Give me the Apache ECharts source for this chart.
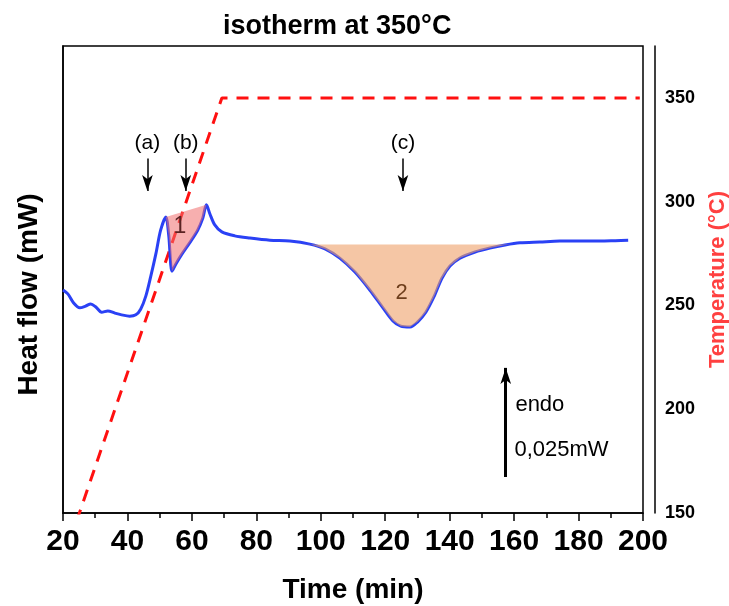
<!DOCTYPE html>
<html><head><meta charset="utf-8">
<script src="https://cdn.jsdelivr.net/npm/echarts@6/dist/echarts.min.js"></script>
<style>html,body{margin:0;padding:0;background:#fff}#c{width:729px;height:606px}</style>
</head><body><div id="c"></div><script>
// ---- data ----
const time = [20.0,21.5,23.3,25.2,27.0,28.6,30.2,32.0,33.9,36.1,38.2,40.7,42.6,44.1,45.7,47.2,48.8,50.3,51.9,52.8,53.85,55.0,56.9,59.3,61.8,63.4,64.5,65.6,67.1,69.3,73.3,78.0,84.2,90.4,96.6,101.3,105.9,110.6,115.2,119.3,122.4,124.8,127.7,130.1,132.6,135.1,137.6,140.1,143.2,147.9,152.5,157.2,161.8,168.0,174.2,180.5,186.7,191.4,195.4];
const heatFlow = [0.0511,0.0502,0.0481,0.0470,0.0474,0.0479,0.0472,0.0460,0.0463,0.0458,0.0454,0.0451,0.0454,0.0467,0.0497,0.0541,0.0593,0.0648,0.0678,0.0637,0.0554,0.0570,0.0593,0.0619,0.0648,0.0676,0.0706,0.0685,0.0660,0.0644,0.0635,0.0630,0.0625,0.0623,0.0616,0.0605,0.0584,0.0552,0.0511,0.0470,0.0440,0.0428,0.0426,0.0438,0.0460,0.0495,0.0538,0.0566,0.0584,0.0598,0.0607,0.0614,0.0619,0.0621,0.0623,0.0623,0.0623,0.0624,0.0625];
const tempTime = [20, 69.3, 199];
const temperature = [127, 350, 350];
const xTicks = {min: 20, max: 200, interval: 20};
const tempTicks = {min: 150, max: 375, interval: 50};
const heatFlowRange = {min: 0, max: 0.107};
const peak1 = 51.9, peak2 = 64.5;            // area 1 between these times
const area2 = {start: 93.6, end: 158.7, base: 0.0615};
const arrowsABC = [{t: 46.2, name: '(a)'}, {t: 58.1, name: '(b)'}, {t: 125.5, name: '(c)'}];
const scaleBar = {t: 157.4, from: 0.00825, to: 0.03325, text1: 'endo', text2: '0,025mW'};

const FONT = 'Liberation Sans, Arial, Helvetica, sans-serif';
const hfData = time.map((t, i) => [t, heatFlow[i]]);
const tData = tempTime.map((t, i) => [t, temperature[i]]);

const chart = echarts.init(document.getElementById('c'));

function polyArea(api, pts, color) {
  return {type: 'polygon', shape: {points: pts.map(p => api.coord(p))}, style: {fill: color}};
}

chart.setOption({
  animation: false,
  backgroundColor: '#fff',
  title: {text: 'isotherm at 350°C', left: 218, top: 8,
    textStyle: {fontFamily: FONT, fontSize: 27, fontWeight: 'bold', color: '#000'}},
  grid: {left: 63, right: 86, top: 46, bottom: 93, containLabel: false, outerBoundsMode: 'none',
    show: true, borderColor: '#000', borderWidth: 1.5, backgroundColor: 'transparent'},
  xAxis: {type: 'value', min: xTicks.min, max: xTicks.max, interval: xTicks.interval,
    name: 'Time (min)', nameLocation: 'middle', nameGap: 63,
    nameTextStyle: {fontFamily: FONT, fontSize: 28, fontWeight: 'bold', color: '#000'},
    axisLine: {lineStyle: {color: '#000', width: 1.5}},
    axisTick: {show: true, length: 8, lineStyle: {color: '#000', width: 1.5}},
    minorTick: {show: true, splitNumber: 2, length: 5, lineStyle: {color: '#000', width: 1.5}},
    splitLine: {show: false},
    axisLabel: {fontFamily: FONT, fontSize: 30, fontWeight: 'bold', color: '#000', margin: 14}},
  yAxis: [
    {type: 'value', min: heatFlowRange.min, max: heatFlowRange.max, position: 'left',
      name: 'Heat flow (mW)', nameLocation: 'middle', nameGap: 20, nameRotate: 90,
      nameTextStyle: {fontFamily: FONT, fontSize: 28, fontWeight: 'bold', color: '#000', padding: [0, 30, 0, 0]},
      axisLine: {show: true, lineStyle: {color: '#000', width: 1.5}},
      axisTick: {show: false}, axisLabel: {show: false}, splitLine: {show: false}},
    {type: 'value', min: tempTicks.min, max: tempTicks.max, interval: tempTicks.interval, position: 'right', offset: 12,
      name: 'Temperature (°C)', nameLocation: 'middle', nameGap: 52, nameRotate: 90,
      nameTextStyle: {fontFamily: FONT, fontSize: 22, fontWeight: 'bold', color: '#ff4040'},
      axisLine: {show: true, lineStyle: {color: '#000', width: 1.5}},
      axisTick: {show: false}, splitLine: {show: false},
      axisLabel: {fontFamily: FONT, fontSize: 18, fontWeight: 'bold', color: '#000', margin: 10, showMaxLabel: false}}
  ],
  series: [
    {type: 'line', name: 'heat flow', data: hfData, yAxisIndex: 0, symbol: 'none', smooth: 0.3,
      lineStyle: {color: '#2a41f5', width: 3}, z: 3,
      markLine: {silent: true, symbol: ['none', 'arrow'], animation: false,
        data: arrowsABC.map(a => [
          {coord: [a.t, 0.0812], symbolSize: [8, 12], lineStyle: {color: '#000', width: 1.5, type: 'solid'},
            label: {show: true, position: 'start', formatter: a.name, distance: 5, fontFamily: FONT, fontSize: 21, color: '#000'}},
          {coord: [a.t, 0.0738]}
        ]).concat([[
          {coord: [scaleBar.t, scaleBar.from], symbolSize: [10, 18], lineStyle: {color: '#000', width: 3, type: 'solid'}, label: {show: false}},
          {coord: [scaleBar.t, scaleBar.to]}
        ]])},
      markPoint: {silent: true, symbol: 'circle', symbolSize: 1, itemStyle: {color: 'rgba(0,0,0,0)'},
        data: [
          {coord: [56.3, 0.0655], label: {show: true, formatter: '1', position: 'inside', fontFamily: FONT, fontSize: 23, color: '#5a2222'}},
          {coord: [125.1, 0.0504], label: {show: true, formatter: '2', position: 'inside', fontFamily: FONT, fontSize: 22, color: '#6e3e1c'}},
          {coord: [160.4, 0.0247], label: {show: true, formatter: scaleBar.text1, position: 'inside', align: 'left', fontFamily: FONT, fontSize: 22, color: '#000'}},
          {coord: [160.1, 0.0144], label: {show: true, formatter: scaleBar.text2, position: 'inside', align: 'left', fontFamily: FONT, fontSize: 22, color: '#000'}}
        ]}},
    {type: 'custom', name: 'areas', yAxisIndex: 0, z: 4, silent: true, clip: true,
      data: [[peak1, 0]],
      renderItem: function (params, api) {
        if (params.dataIndex !== 0) return;
        const a1 = hfData.filter(p => p[0] >= peak1 && p[0] <= peak2);
        const a2 = [[area2.start, area2.base]].concat(hfData.filter(p => p[0] > area2.start && p[0] < area2.end)).concat([[area2.end, area2.base]]);
        return {type: 'group', children: [
          polyArea(api, a1, 'rgba(240,110,110,0.55)'),
          polyArea(api, a2, 'rgba(238,160,105,0.6)')
        ]};
      }},
    {type: 'line', name: 'temperature', data: tData, yAxisIndex: 1, symbol: 'none',
      lineStyle: {color: '#ff1010', width: 3, type: [12, 9]}, z: 2}
  ]
});
</script></body></html>
